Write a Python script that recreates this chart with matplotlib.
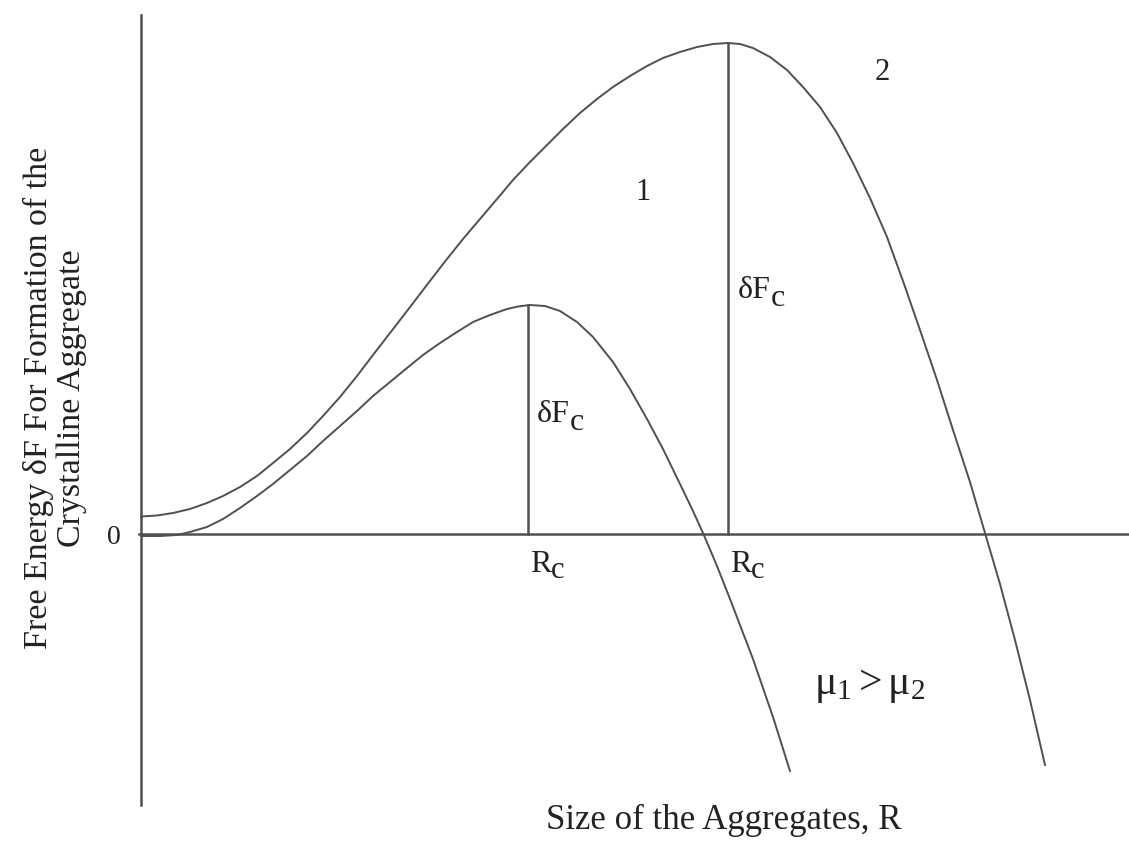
import numpy as np
import matplotlib
matplotlib.use('Agg')
import matplotlib.pyplot as plt

# curve 2 (upper, larger critical size)
r_upper = [0, 16, 32, 49, 66, 82, 99, 116, 132, 149, 166, 182, 199, 216, 232, 249,
           266, 279, 292, 306, 322, 339, 356, 372, 389, 406, 422, 439, 456, 472,
           489, 506, 522, 539, 556, 572, 587, 599, 612, 629, 646, 662, 679, 696,
           712, 729, 746, 762, 779, 796, 812, 829, 844, 859, 874, 889, 904]
f_upper = [17.5, 18.5, 21, 25, 31, 38, 47, 58, 71, 85, 101, 118, 137, 158, 179, 201,
           223, 240, 257, 275, 295, 315, 335, 354, 372, 389, 405, 421, 435, 447,
           458, 468, 476, 482, 487, 490, 491, 490, 486, 477, 464, 447, 427, 401,
           371, 336, 297, 253, 204, 154, 104, 52, 1, -50, -106, -166, -231]

# curve 1 (lower, smaller critical size)
r_lower = [0, 19, 36, 49, 66, 82, 99, 116, 132, 149, 166, 182, 199, 216, 232, 249,
           266, 282, 299, 316, 332, 349, 366, 377, 389, 404, 419, 436, 452, 472,
           489, 506, 522, 539, 552, 562, 576, 589, 612, 632, 649]
f_lower = [-2, -2, -1, 2, 7, 15, 26, 38, 50, 64, 78, 93, 108, 123, 138, 152,
           166, 179, 191, 202, 212, 219, 225, 227.5, 229, 228, 223, 212, 197, 172,
           145, 115, 85, 50, 23, 1, -32, -65, -125, -183, -237]

# critical sizes and barrier heights
r_crit = [387, 587]
f_crit = [229, 491]

plt.rcParams['font.family'] = ['Liberation Serif', 'DejaVu Serif']
plt.rcParams['mathtext.fontset'] = 'custom'
plt.rcParams['mathtext.rm'] = 'Liberation Serif'
plt.rcParams['mathtext.it'] = 'Liberation Serif:italic'
plt.rcParams['mathtext.default'] = 'rm'

line_col = '#505050'
txt_col = '#222222'

fig = plt.figure(figsize=(11.29, 8.41), dpi=100)
ax = fig.add_axes([0, 0, 1, 1])
ax.set_xlim(-141, 988)
ax.set_ylim(-307, 534)
ax.axis('off')

# axes drawn as plain lines
ax.plot([0, 0], [519, -271], color=line_col, linewidth=1.8)
ax.plot([-2, 988], [0, 0], color=line_col, linewidth=1.8)

ax.plot(r_upper, f_upper, color=line_col, linewidth=1.4)
ax.plot(r_lower, f_lower, color=line_col, linewidth=1.4)


def sub_label(x, y, main, sub, size, subsize, drop):
    t = ax.text(x, y, main, fontsize=size, color=txt_col, ha='left', va='center')
    ax.annotate(sub, xy=(1, 0), xycoords=t, xytext=(0, -drop),
                textcoords='offset pixels', fontsize=subsize, color=txt_col,
                ha='left', va='bottom')
    return t


for rc, fc in zip(r_crit, f_crit):
    ax.plot([rc, rc], [0, fc], color=line_col, linewidth=1.8)
    sub_label(rc + 2, -31, 'R', 'c', 23, 22, 6)

sub_label(r_crit[0] + 9, 119, '\u03b4F', 'c', 23, 23, 8)
sub_label(r_crit[1] + 10, 243, '\u03b4F', 'c', 23, 23, 8)

ax.text(-27, -3, '0', fontsize=20, color=txt_col, ha='center', va='center')
ax.text(502, 341, '1', fontsize=22, color=txt_col, ha='center', va='center')
ax.text(741, 462, '2', fontsize=22, color=txt_col, ha='center', va='center')
ax.text(673, -152, r'$\mu_1 > \mu_2$', fontsize=30, color=txt_col, ha='left', va='center')

ax.text(583, -286, 'Size of the Aggregates, R', fontsize=25, color=txt_col,
        ha='center', va='center')
ax.text(-86, 136, 'Free Energy \u03b4F For Formation of the\nCrystalline Aggregate',
        fontsize=24.5, color=txt_col, ha='center', va='center', rotation=90,
        multialignment='center', linespacing=1.1)

fig.savefig('out.png', dpi=100)
